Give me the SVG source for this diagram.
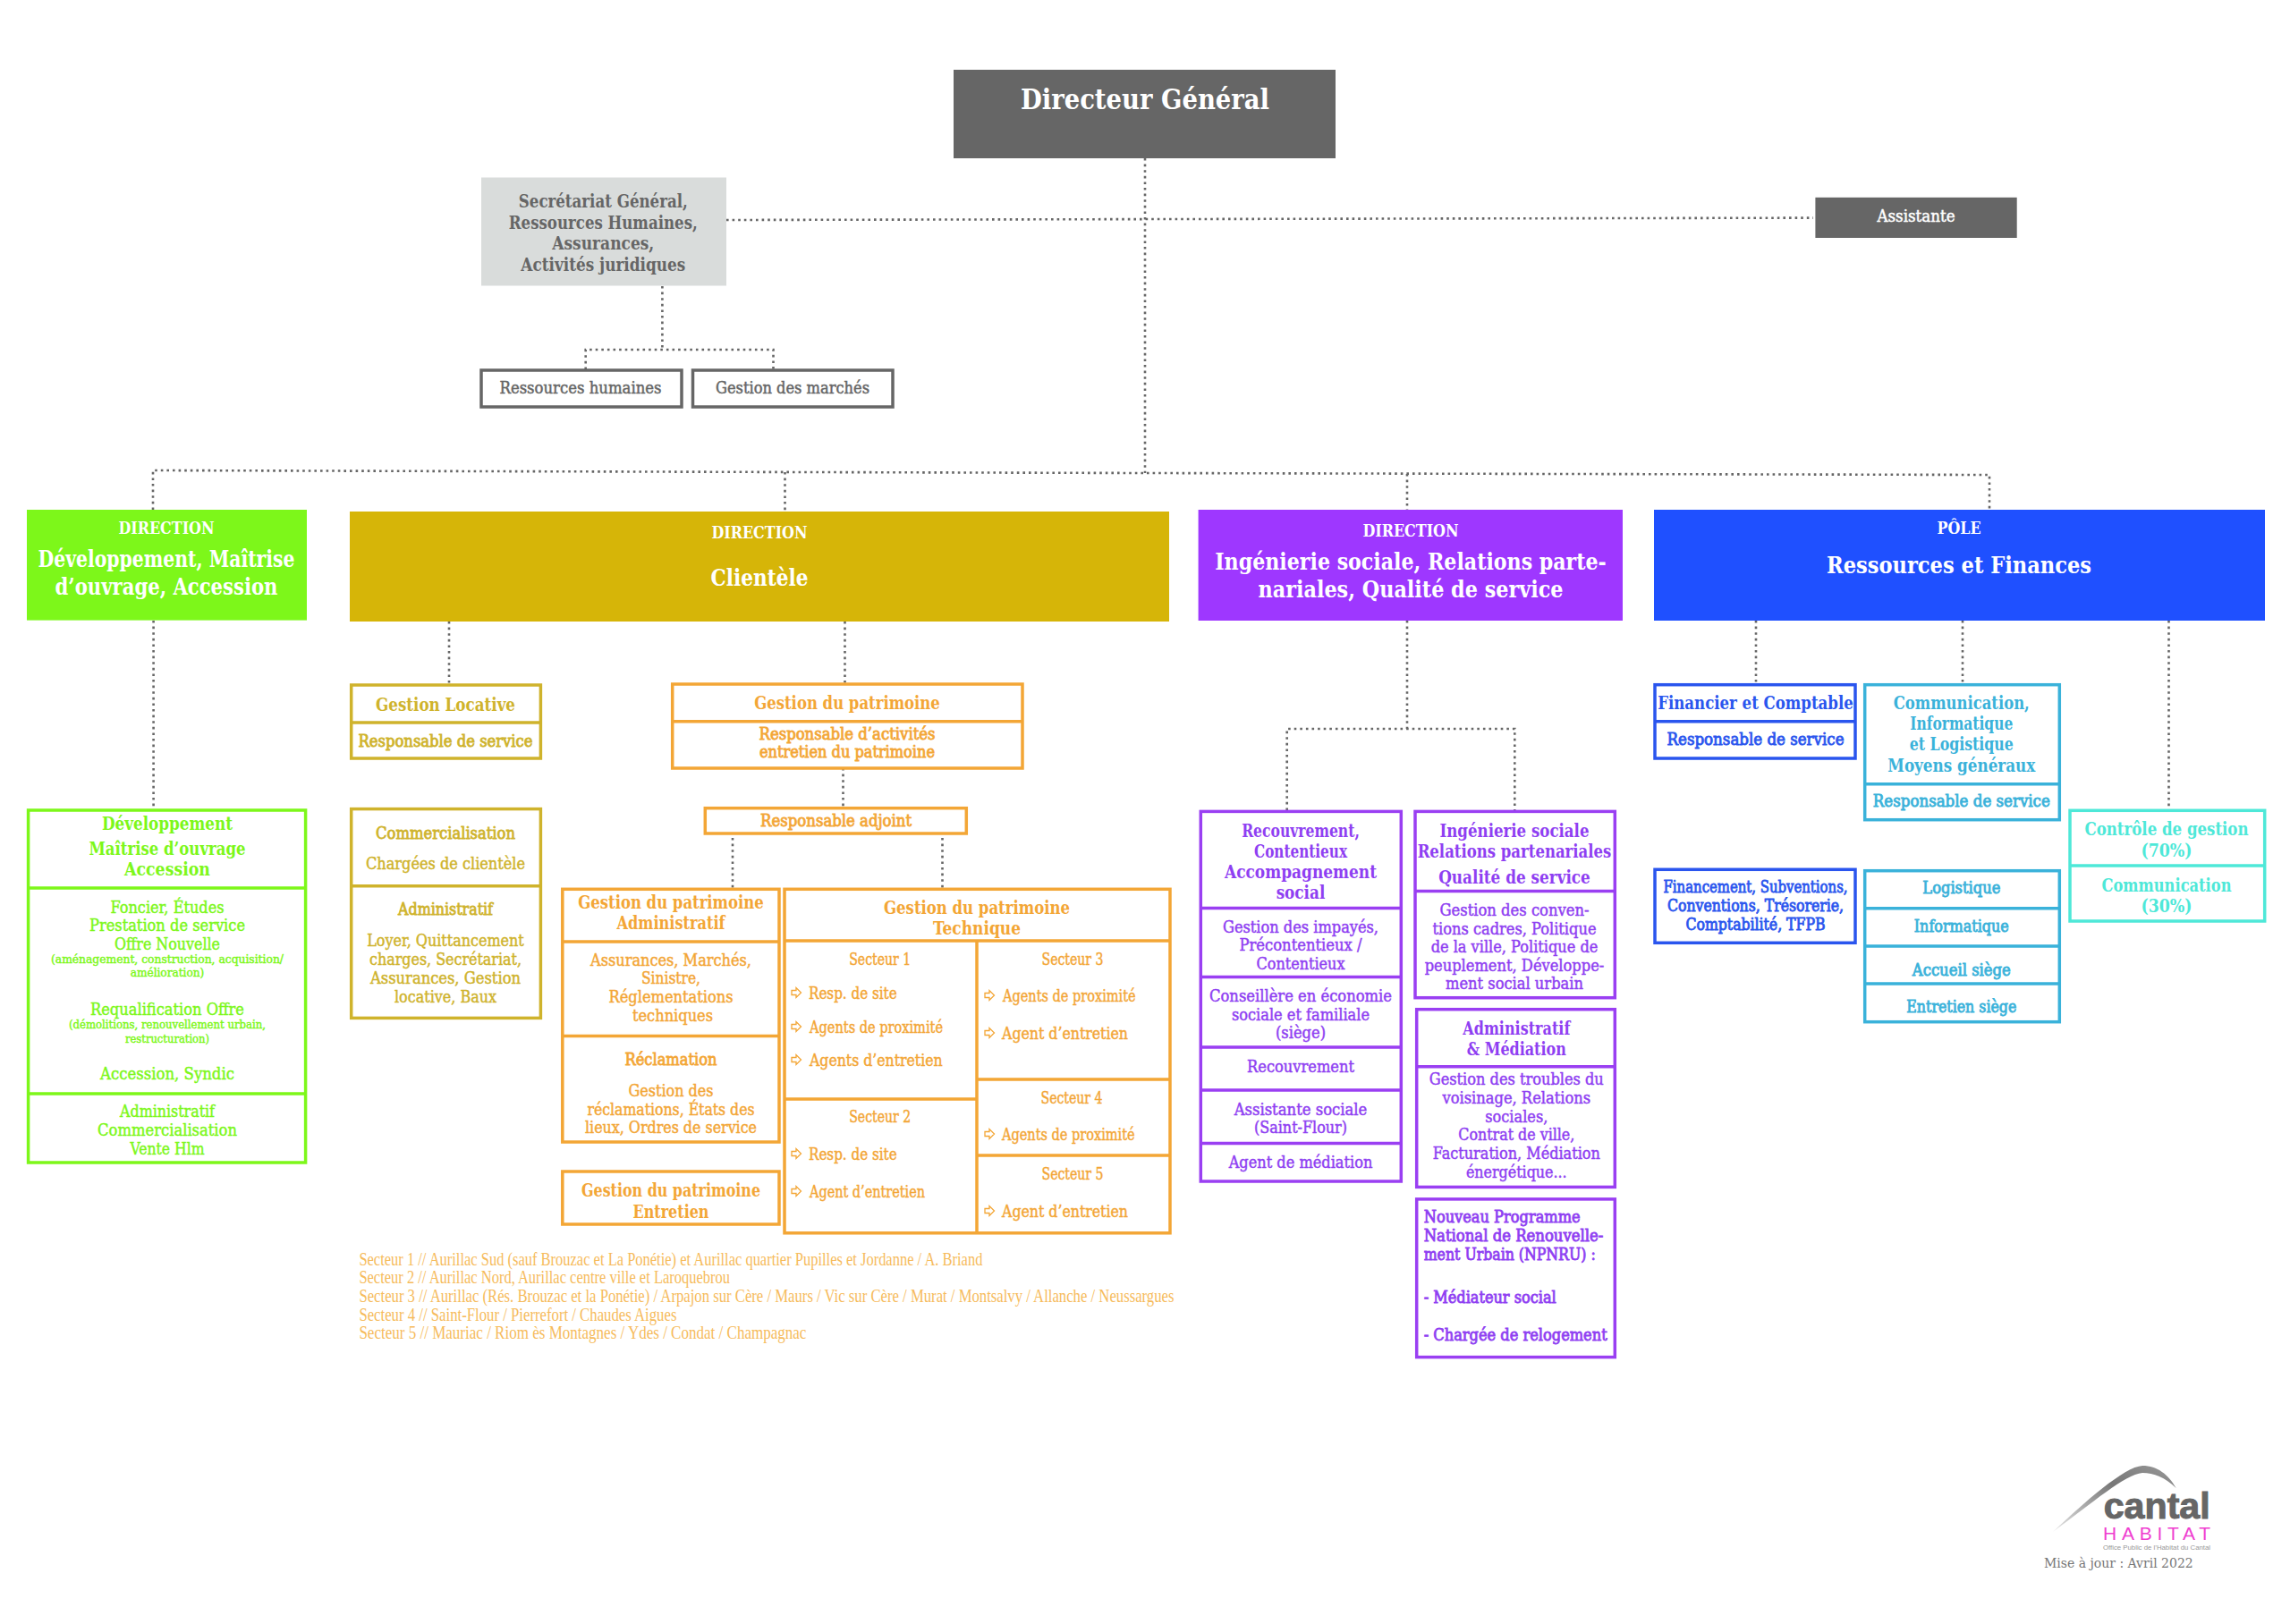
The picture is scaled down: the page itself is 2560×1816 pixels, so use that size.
<svg xmlns="http://www.w3.org/2000/svg" width="2560" height="1816" viewBox="0 0 2560 1816">
<style>
text{font-family:"DejaVu Serif Condensed","DejaVu Serif",serif;text-anchor:middle;stroke-width:.45}
.b{font-weight:700;stroke-width:0}
.m{stroke-width:.8}
.box{fill:#fff;stroke-width:3.5}
.dv{stroke-width:3.5}
.dot{fill:none;stroke:#666;stroke-width:2.6;stroke-dasharray:2.6 4}
.w{fill:#fff}.gy{fill:#666}
.gr text{fill:#7df71a;stroke:#7df71a}.gr .box,.gr .dv{stroke:#7df71a}
.go text{fill:#cfb32c;stroke:#cfb32c}.go .box,.go .dv{stroke:#cfb32c}
.or text{fill:#f3a636;stroke:#f3a636}.or .box,.or .dv{stroke:#f3a636}
.pu text{fill:#8f3ff2;stroke:#8f3ff2}.pu .box,.pu .dv{stroke:#9a3ff2}
.bl text{fill:#2a55ee;stroke:#2a55ee}.bl .box,.bl .dv{stroke:#2a55ee}
.cy text{fill:#3ab2da;stroke:#3ab2da}.cy .box,.cy .dv{stroke:#3ab2da}
.aq text{fill:#4ee8d8;stroke:#4ee8d8}.aq .box,.aq .dv{stroke:#4ee8d8}
.s20{font-size:20px}.s19{font-size:19px}.s18{font-size:18px}.s17{font-size:19px}.s14{font-size:13.5px}.s26{font-size:26px}
.l{text-anchor:start}
.ar{fill:#fff;stroke:#f3a636;stroke-width:1.3}
.fn{font-family:"Liberation Serif",serif;font-size:21px;fill:#f6bb5c;text-anchor:start;stroke-width:0}
</style>
<defs>
<linearGradient id="sw" x1="0" y1="1" x2="1" y2="0"><stop offset="0" stop-color="#e8e8e8"/><stop offset=".6" stop-color="#777"/><stop offset="1" stop-color="#999"/></linearGradient>
<path id="arr" d="M-5 -2.5H0V-5.5L5.5 0L0 5.5V2.5H-5Z"/>
</defs>
<rect width="2560" height="1816" fill="#fff"/>
<g id="connectors" class="dots">
<path class="dot" d="M1280 177V529"/>
<path class="dot" d="M812 246L2027 243.6"/>
<path class="dot" d="M740.4 320V391M654.7 413V391H864.5V413"/>
<path class="dot" d="M171 570V526L1280 529L2224 531V570"/>
<path class="dot" d="M877.5 528V572M1573 530V570"/>
<path class="dot" d="M171.6 694V906"/>
<path class="dot" d="M502 695V766M944.5 695V765"/>
<path class="dot" d="M942.5 859V904M819 937V994M1053.5 937V994"/>
<path class="dot" d="M1573 694V815M1438.7 906V815H1693.3V906"/>
<path class="dot" d="M1963 694V766M2194 694V766M2424.5 694V906"/>
</g>
<g id="dg"><rect x="1066" y="78" width="427" height="99" fill="#666"/><text class="w b" x="1280" y="122" font-size="31" textLength="278" lengthAdjust="spacingAndGlyphs">Directeur Général</text></g>
<g id="sg"><rect x="538" y="198.5" width="274" height="121" fill="#d9dcdb"/>
<g class="gy b s20">
<text x="674.3" y="232" textLength="189" lengthAdjust="spacingAndGlyphs">Secrétariat Général,</text>
<text x="674.3" y="255.6" textLength="211" lengthAdjust="spacingAndGlyphs">Ressources Humaines,</text>
<text x="674.3" y="279" textLength="114" lengthAdjust="spacingAndGlyphs">Assurances,</text>
<text x="674.3" y="302.5" textLength="184" lengthAdjust="spacingAndGlyphs">Activités juridiques</text></g></g>
<g id="assistante"><rect x="2029.4" y="220.8" width="225.3" height="45.2" fill="#666"/><text class="w s18" x="2142" y="248" textLength="87" lengthAdjust="spacingAndGlyphs" stroke="#fff">Assistante</text></g>
<g id="rh"><rect x="538" y="414" width="224" height="41" fill="#fff" stroke="#666" stroke-width="3.5"/><text class="gy s18" stroke="#666" x="649" y="440" textLength="181" lengthAdjust="spacingAndGlyphs">Ressources humaines</text></g>
<g id="marches"><rect x="774.5" y="414" width="223.5" height="41" fill="#fff" stroke="#666" stroke-width="3.5"/><text class="gy s18" stroke="#666" x="886" y="440" textLength="172" lengthAdjust="spacingAndGlyphs">Gestion des marchés</text></g>

<g id="dir-dev"><rect x="30" y="570" width="313" height="123.6" fill="#7df71a"/>
<text class="w b s18" x="186" y="597" textLength="107" lengthAdjust="spacingAndGlyphs">DIRECTION</text>
<text class="w b s26" x="186" y="634" textLength="287" lengthAdjust="spacingAndGlyphs">Développement, Maîtrise</text>
<text class="w b s26" x="186" y="665" textLength="249" lengthAdjust="spacingAndGlyphs">d’ouvrage, Accession</text></g>
<g id="dir-cli"><rect x="391" y="572" width="916" height="123" fill="#d6b508"/>
<text class="w b s18" x="849" y="601.6" textLength="107" lengthAdjust="spacingAndGlyphs">DIRECTION</text>
<text class="w b s26" x="849" y="655" textLength="109" lengthAdjust="spacingAndGlyphs">Clientèle</text></g>
<g id="dir-ing"><rect x="1339.6" y="570" width="474.4" height="124" fill="#9e37ff"/>
<text class="w b s18" x="1577" y="600" textLength="107" lengthAdjust="spacingAndGlyphs">DIRECTION</text>
<text class="w b s26" x="1577" y="637" textLength="437.5" lengthAdjust="spacingAndGlyphs">Ingénierie sociale, Relations parte-</text>
<text class="w b s26" x="1577" y="668" textLength="341" lengthAdjust="spacingAndGlyphs">nariales, Qualité de service</text></g>
<g id="pole"><rect x="1849" y="570" width="683" height="124" fill="#1f50ff"/>
<text class="w b s18" x="2190" y="597" textLength="49" lengthAdjust="spacingAndGlyphs">PÔLE</text>
<text class="w b s26" x="2190" y="641" textLength="296" lengthAdjust="spacingAndGlyphs">Ressources et Finances</text></g>

<g id="dev" class="gr"><rect class="box" x="31.6" y="906" width="310" height="394"/>
<path class="dv" d="M31.6 993H341.6M31.6 1223H341.6"/>
<text class="b s20" x="187" y="927.5" textLength="146" lengthAdjust="spacingAndGlyphs">Développement</text>
<text class="b s20" x="187" y="956" textLength="175" lengthAdjust="spacingAndGlyphs">Maîtrise d’ouvrage</text>
<text class="b s20" x="187" y="979" textLength="96" lengthAdjust="spacingAndGlyphs">Accession</text>
<text class="s19" x="187" y="1020.5" textLength="127" lengthAdjust="spacingAndGlyphs">Foncier, Études</text>
<text class="s19" x="187" y="1041" textLength="174" lengthAdjust="spacingAndGlyphs">Prestation de service</text>
<text class="s19" x="187" y="1061.5" textLength="118" lengthAdjust="spacingAndGlyphs">Offre Nouvelle</text>
<text class="s14" x="187" y="1077" textLength="260" lengthAdjust="spacingAndGlyphs">(aménagement, construction, acquisition/</text>
<text class="s14" x="187" y="1092" textLength="82.5" lengthAdjust="spacingAndGlyphs">amélioration)</text>
<text class="s19" x="187" y="1134.6" textLength="172" lengthAdjust="spacingAndGlyphs">Requalification Offre</text>
<text class="s14" x="187" y="1149.5" textLength="220" lengthAdjust="spacingAndGlyphs">(démolitions, renouvellement urbain,</text>
<text class="s14" x="187" y="1165.6" textLength="94" lengthAdjust="spacingAndGlyphs">restructuration)</text>
<text class="s19" x="187" y="1207" textLength="150" lengthAdjust="spacingAndGlyphs">Accession, Syndic</text>
<text class="s19" x="187" y="1249" textLength="106" lengthAdjust="spacingAndGlyphs">Administratif</text>
<text class="s19" x="187" y="1270" textLength="156" lengthAdjust="spacingAndGlyphs">Commercialisation</text>
<text class="s19" x="187" y="1291" textLength="83" lengthAdjust="spacingAndGlyphs">Vente Hlm</text></g>

<g id="gest-loc" class="go"><rect class="box" x="392.7" y="766" width="211.7" height="82"/>
<path class="dv" d="M392.7 808H604.4"/>
<text class="b s20" x="498" y="794.7" textLength="156" lengthAdjust="spacingAndGlyphs">Gestion Locative</text>
<text class="m s18" x="498" y="835" textLength="195" lengthAdjust="spacingAndGlyphs">Responsable de service</text></g>
<g id="commerc" class="go"><rect class="box" x="392.7" y="904.6" width="211.7" height="233.8"/>
<path class="dv" d="M392.7 990.7H604.4"/>
<text class="m s19" x="498" y="937.5" textLength="156" lengthAdjust="spacingAndGlyphs">Commercialisation</text>
<text class="s19" x="498" y="972" textLength="178" lengthAdjust="spacingAndGlyphs">Chargées de clientèle</text>
<text class="m s19" x="498" y="1023" textLength="106" lengthAdjust="spacingAndGlyphs">Administratif</text>
<text class="s19" x="498" y="1058.4" textLength="175.5" lengthAdjust="spacingAndGlyphs">Loyer, Quittancement</text>
<text class="s19" x="498" y="1078.7" textLength="170" lengthAdjust="spacingAndGlyphs">charges, Secrétariat,</text>
<text class="s19" x="498" y="1099.7" textLength="168" lengthAdjust="spacingAndGlyphs">Assurances, Gestion</text>
<text class="s19" x="498" y="1120.8" textLength="114" lengthAdjust="spacingAndGlyphs">locative, Baux</text></g>

<g id="patrimoine" class="or"><rect class="box" x="751.7" y="765" width="391.3" height="94"/>
<path class="dv" d="M751.7 806.7H1143"/>
<text class="b s20" x="947" y="792.7" textLength="207.7" lengthAdjust="spacingAndGlyphs">Gestion du patrimoine</text>
<text class="m s18" x="947" y="826.7" textLength="197" lengthAdjust="spacingAndGlyphs">Responsable d’activités</text>
<text class="m s18" x="947" y="846.7" textLength="196" lengthAdjust="spacingAndGlyphs">entretien du patrimoine</text></g>
<g id="adjoint" class="or"><rect class="box" x="788.3" y="903.7" width="292" height="28.3"/>
<text class="m s18" x="934.6" y="924" textLength="169" lengthAdjust="spacingAndGlyphs">Responsable adjoint</text></g>
<g id="pat-admin" class="or"><rect class="box" x="628.8" y="994.3" width="242.2" height="282.7"/>
<path class="dv" d="M628.8 1053H871M628.8 1158.4H871"/>
<text class="b s20" x="750" y="1016" textLength="207.6" lengthAdjust="spacingAndGlyphs">Gestion du patrimoine</text>
<text class="b s20" x="750" y="1039" textLength="121" lengthAdjust="spacingAndGlyphs">Administratif</text>
<text class="s19" x="750" y="1080" textLength="180" lengthAdjust="spacingAndGlyphs">Assurances, Marchés,</text>
<text class="s19" x="750" y="1100.4" textLength="66" lengthAdjust="spacingAndGlyphs">Sinistre,</text>
<text class="s19" x="750" y="1120.8" textLength="139" lengthAdjust="spacingAndGlyphs">Réglementations</text>
<text class="s19" x="752" y="1142" textLength="90" lengthAdjust="spacingAndGlyphs">techniques</text>
<text class="m s19" x="750" y="1191" textLength="103" lengthAdjust="spacingAndGlyphs">Réclamation</text>
<text class="s19" x="750" y="1226" textLength="95" lengthAdjust="spacingAndGlyphs">Gestion des</text>
<text class="s19" x="750" y="1246.5" textLength="187" lengthAdjust="spacingAndGlyphs">réclamations, États des</text>
<text class="s19" x="750" y="1267" textLength="192" lengthAdjust="spacingAndGlyphs">lieux, Ordres de service</text></g>
<g id="pat-entretien" class="or"><rect class="box" x="628.8" y="1310" width="242.2" height="59"/>
<text class="b s20" x="750" y="1338" textLength="200" lengthAdjust="spacingAndGlyphs">Gestion du patrimoine</text>
<text class="b s20" x="750" y="1361.6" textLength="85" lengthAdjust="spacingAndGlyphs">Entretien</text></g>
<g id="pat-tech" class="or"><rect class="box" x="877" y="994.3" width="431" height="384.5"/>
<path class="dv" d="M877 1052H1308M1092 1052V1378.8M877 1229H1092M1092 1207H1308M1092 1292H1308"/>
<text class="b s20" x="1092" y="1022" textLength="208" lengthAdjust="spacingAndGlyphs">Gestion du patrimoine</text>
<text class="b s20" x="1092" y="1045" textLength="98" lengthAdjust="spacingAndGlyphs">Technique</text>
<text class="s17" x="983.7" y="1079" textLength="69" lengthAdjust="spacingAndGlyphs">Secteur 1</text>
<use href="#arr" class="ar" x="890" y="1110"/><text class="l s17" x="904" y="1116.7" textLength="98.6" lengthAdjust="spacingAndGlyphs">Resp. de site</text>
<use href="#arr" class="ar" x="890" y="1148"/><text class="l s17" x="905" y="1154.7" textLength="149" lengthAdjust="spacingAndGlyphs">Agents de proximité</text>
<use href="#arr" class="ar" x="890" y="1185"/><text class="l s17" x="905" y="1192" textLength="148.6" lengthAdjust="spacingAndGlyphs">Agents d’entretien</text>
<text class="s17" x="983.7" y="1254.7" textLength="69" lengthAdjust="spacingAndGlyphs">Secteur 2</text>
<use href="#arr" class="ar" x="890" y="1290"/><text class="l s17" x="904" y="1296.7" textLength="98.6" lengthAdjust="spacingAndGlyphs">Resp. de site</text>
<use href="#arr" class="ar" x="890" y="1332"/><text class="l s17" x="905" y="1338.8" textLength="129" lengthAdjust="spacingAndGlyphs">Agent d’entretien</text>
<text class="s17" x="1199" y="1079" textLength="69" lengthAdjust="spacingAndGlyphs">Secteur 3</text>
<use href="#arr" class="ar" x="1106" y="1113"/><text class="l s17" x="1121" y="1120" textLength="148.6" lengthAdjust="spacingAndGlyphs">Agents de proximité</text>
<use href="#arr" class="ar" x="1106" y="1155"/><text class="l s17" x="1120" y="1161.6" textLength="141" lengthAdjust="spacingAndGlyphs">Agent d’entretien</text>
<text class="s17" x="1198" y="1233.5" textLength="69" lengthAdjust="spacingAndGlyphs">Secteur 4</text>
<use href="#arr" class="ar" x="1106" y="1268"/><text class="l s17" x="1120" y="1275" textLength="148.6" lengthAdjust="spacingAndGlyphs">Agents de proximité</text>
<text class="s17" x="1199" y="1319" textLength="69" lengthAdjust="spacingAndGlyphs">Secteur 5</text>
<use href="#arr" class="ar" x="1106" y="1354"/><text class="l s17" x="1120" y="1361" textLength="141" lengthAdjust="spacingAndGlyphs">Agent d’entretien</text></g>
<g id="secteurs">
<text class="fn" x="401.4" y="1415" textLength="697" lengthAdjust="spacingAndGlyphs">Secteur 1 // Aurillac Sud (sauf Brouzac et La Ponétie) et Aurillac quartier Pupilles  et Jordanne / A. Briand</text>
<text class="fn" x="401.4" y="1435" textLength="414.6" lengthAdjust="spacingAndGlyphs">Secteur 2 // Aurillac Nord, Aurillac centre ville et Laroquebrou</text>
<text class="fn" x="401.4" y="1456" textLength="911" lengthAdjust="spacingAndGlyphs">Secteur 3 // Aurillac (Rés. Brouzac et la Ponétie) / Arpajon sur Cère / Maurs / Vic sur Cère / Murat / Montsalvy / Allanche / Neussargues</text>
<text class="fn" x="401.4" y="1476.7" textLength="355" lengthAdjust="spacingAndGlyphs">Secteur 4 // Saint-Flour / Pierrefort / Chaudes Aigues</text>
<text class="fn" x="401.4" y="1496.7" textLength="500" lengthAdjust="spacingAndGlyphs">Secteur 5 // Mauriac / Riom ès Montagnes / Ydes / Condat / Champagnac</text></g>

<g id="recouvrement" class="pu"><rect class="box" x="1342.3" y="907.4" width="224" height="413.6"/>
<path class="dv" d="M1342.3 1015.5H1566.3M1342.3 1092.5H1566.3M1342.3 1171H1566.3M1342.3 1219H1566.3M1342.3 1278.6H1566.3"/>
<text class="b s20" x="1454" y="935.6" textLength="131.7" lengthAdjust="spacingAndGlyphs">Recouvrement,</text>
<text class="b s20" x="1454" y="958.7" textLength="104" lengthAdjust="spacingAndGlyphs">Contentieux</text>
<text class="b s20" x="1454" y="982" textLength="170" lengthAdjust="spacingAndGlyphs">Accompagnement</text>
<text class="b s20" x="1454" y="1005.4" textLength="54.7" lengthAdjust="spacingAndGlyphs">social</text>
<text class="s18" x="1454" y="1042.5" textLength="174" lengthAdjust="spacingAndGlyphs">Gestion des impayés,</text>
<text class="s18" x="1454" y="1063" textLength="137" lengthAdjust="spacingAndGlyphs">Précontentieux /</text>
<text class="s18" x="1454" y="1083.7" textLength="99" lengthAdjust="spacingAndGlyphs">Contentieux</text>
<text class="s18" x="1454" y="1120" textLength="204" lengthAdjust="spacingAndGlyphs">Conseillère en économie</text>
<text class="s18" x="1454" y="1140.5" textLength="154" lengthAdjust="spacingAndGlyphs">sociale et familiale</text>
<text class="s18" x="1454" y="1161" textLength="56" lengthAdjust="spacingAndGlyphs">(siège)</text>
<text class="s18" x="1454" y="1199" textLength="120" lengthAdjust="spacingAndGlyphs">Recouvrement</text>
<text class="s18" x="1454" y="1246.6" textLength="148.7" lengthAdjust="spacingAndGlyphs">Assistante sociale</text>
<text class="s18" x="1454" y="1267" textLength="104" lengthAdjust="spacingAndGlyphs">(Saint-Flour)</text>
<text class="s18" x="1454" y="1305.5" textLength="160.7" lengthAdjust="spacingAndGlyphs">Agent de médiation</text></g>
<g id="ingenierie" class="pu"><rect class="box" x="1582" y="907.4" width="223.3" height="208.3"/>
<path class="dv" d="M1582 996.6H1805.3"/>
<text class="b s20" x="1693" y="935.6" textLength="167" lengthAdjust="spacingAndGlyphs">Ingénierie sociale</text>
<text class="b s20" x="1693" y="958.7" textLength="216.7" lengthAdjust="spacingAndGlyphs">Relations partenariales</text>
<text class="b s20" x="1693" y="988" textLength="169.7" lengthAdjust="spacingAndGlyphs">Qualité de service</text>
<text class="s18" x="1693" y="1023.5" textLength="167" lengthAdjust="spacingAndGlyphs">Gestion des conven-</text>
<text class="s18" x="1693" y="1044.6" textLength="183" lengthAdjust="spacingAndGlyphs">tions cadres, Politique</text>
<text class="s18" x="1693" y="1065" textLength="186.7" lengthAdjust="spacingAndGlyphs">de la ville, Politique de</text>
<text class="s18" x="1693" y="1085.8" textLength="200.7" lengthAdjust="spacingAndGlyphs">peuplement, Développe-</text>
<text class="s18" x="1693" y="1106.4" textLength="154" lengthAdjust="spacingAndGlyphs">ment social urbain</text></g>
<g id="mediation" class="pu"><rect class="box" x="1583.7" y="1128.7" width="221.6" height="198.7"/>
<path class="dv" d="M1583.7 1192.7H1805.3"/>
<text class="b s20" x="1695.3" y="1157" textLength="120" lengthAdjust="spacingAndGlyphs">Administratif</text>
<text class="b s20" x="1695.3" y="1180" textLength="111" lengthAdjust="spacingAndGlyphs">&amp; Médiation</text>
<text class="s18" x="1695.3" y="1213" textLength="195" lengthAdjust="spacingAndGlyphs">Gestion des troubles du</text>
<text class="s18" x="1695.3" y="1234" textLength="165.7" lengthAdjust="spacingAndGlyphs">voisinage, Relations</text>
<text class="s18" x="1695.3" y="1254.6" textLength="70" lengthAdjust="spacingAndGlyphs">sociales,</text>
<text class="s18" x="1695.3" y="1274.8" textLength="130" lengthAdjust="spacingAndGlyphs">Contrat de ville,</text>
<text class="s18" x="1695.3" y="1295.8" textLength="187" lengthAdjust="spacingAndGlyphs">Facturation, Médiation</text>
<text class="s18" x="1695.3" y="1316.5" textLength="112.7" lengthAdjust="spacingAndGlyphs">énergétique...</text></g>
<g id="npnru" class="pu"><rect class="box" x="1583.7" y="1340.9" width="221.6" height="176.7"/>
<text class="m s18 l" x="1591.7" y="1367.4" textLength="175" lengthAdjust="spacingAndGlyphs">Nouveau Programme</text>
<text class="m s18 l" x="1591.7" y="1388" textLength="200.7" lengthAdjust="spacingAndGlyphs">National de Renouvelle-</text>
<text class="m s18 l" x="1591.7" y="1408.6" textLength="192" lengthAdjust="spacingAndGlyphs">ment Urbain (NPNRU) :</text>
<text class="m s18 l" x="1591.7" y="1457.4" textLength="148" lengthAdjust="spacingAndGlyphs">- Médiateur social</text>
<text class="m s18 l" x="1591.7" y="1498.7" textLength="205" lengthAdjust="spacingAndGlyphs">- Chargée de relogement</text></g>

<g id="financier" class="bl"><rect class="box" x="1850" y="765.7" width="224" height="82.3"/>
<path class="dv" d="M1850 806.7H2074"/>
<text class="b s20" x="1962.5" y="793" textLength="218.5" lengthAdjust="spacingAndGlyphs">Financier et Comptable</text>
<text class="m s18" x="1962.5" y="832.7" textLength="198" lengthAdjust="spacingAndGlyphs">Responsable de service</text></g>
<g id="financement" class="bl"><rect class="box" x="1850" y="972.3" width="224" height="82"/>
<text class="m s18" x="1962.5" y="998" textLength="206" lengthAdjust="spacingAndGlyphs">Financement, Subventions,</text>
<text class="m s18" x="1962.5" y="1019" textLength="197" lengthAdjust="spacingAndGlyphs">Conventions, Trésorerie,</text>
<text class="m s18" x="1962.5" y="1039.7" textLength="156" lengthAdjust="spacingAndGlyphs">Comptabilité, TFPB</text></g>
<g id="communication" class="cy"><rect class="box" x="2084.7" y="765.7" width="217.6" height="151"/>
<path class="dv" d="M2084.7 876.7H2302.3"/>
<text class="b s20" x="2192.8" y="792.7" textLength="152" lengthAdjust="spacingAndGlyphs">Communication,</text>
<text class="b s20" x="2192.8" y="816" textLength="115" lengthAdjust="spacingAndGlyphs">Informatique</text>
<text class="b s20" x="2192.8" y="839" textLength="116" lengthAdjust="spacingAndGlyphs">et Logistique</text>
<text class="b s20" x="2192.8" y="862.7" textLength="165" lengthAdjust="spacingAndGlyphs">Moyens généraux</text>
<text class="m s18" x="2192.8" y="901.7" textLength="198" lengthAdjust="spacingAndGlyphs">Responsable de service</text></g>
<g id="logistique" class="cy"><rect class="box" x="2084.7" y="973.7" width="217.6" height="169"/>
<path class="dv" d="M2084.7 1015.7H2302.3M2084.7 1058H2302.3M2084.7 1100H2302.3"/>
<text class="m s18" x="2192.8" y="999" textLength="87" lengthAdjust="spacingAndGlyphs">Logistique</text>
<text class="m s18" x="2192.8" y="1042" textLength="106" lengthAdjust="spacingAndGlyphs">Informatique</text>
<text class="m s18" x="2192.8" y="1091" textLength="110" lengthAdjust="spacingAndGlyphs">Accueil siège</text>
<text class="m s18" x="2192.8" y="1132.3" textLength="123" lengthAdjust="spacingAndGlyphs">Entretien siège</text></g>
<g id="controle" class="aq"><rect class="box" x="2314" y="906.3" width="217.7" height="123.7"/>
<path class="dv" d="M2314 968H2531.7"/>
<text class="b s20" x="2422" y="934.3" textLength="183" lengthAdjust="spacingAndGlyphs">Contrôle de gestion</text>
<text class="b s20" x="2422" y="957.7" textLength="57" lengthAdjust="spacingAndGlyphs">(70%)</text>
<text class="b s20" x="2422" y="996.7" textLength="145" lengthAdjust="spacingAndGlyphs">Communication</text>
<text class="b s20" x="2422" y="1020" textLength="57" lengthAdjust="spacingAndGlyphs">(30%)</text></g>

<g id="logo">
<path d="M2295 1713C2330 1680 2375 1640 2395 1639C2412 1639 2424 1649 2432.7 1664C2420 1652 2408 1647 2395 1647C2375 1649 2340 1680 2295 1713Z" fill="url(#sw)"/>
<text x="2351.7" y="1697.7" font-size="40" style="font-family:'Liberation Sans',sans-serif;font-weight:700;text-anchor:start;fill:#666;stroke:#666;stroke-width:1" textLength="119" lengthAdjust="spacingAndGlyphs">cantal</text>
<text x="2351" y="1721.7" font-size="21" style="font-family:'Liberation Sans',sans-serif;text-anchor:start;fill:#ef3ed0" textLength="120">HABITAT</text>
<text x="2351" y="1733" font-size="7" style="font-family:'Liberation Sans',sans-serif;text-anchor:start;fill:#999" textLength="120" lengthAdjust="spacingAndGlyphs">Office Public de l’Habitat du Cantal</text>
<text x="2285" y="1753" font-size="15" style="text-anchor:start;fill:#777" textLength="166.7" lengthAdjust="spacingAndGlyphs">Mise à jour :  Avril 2022</text>
</g>
</svg>
